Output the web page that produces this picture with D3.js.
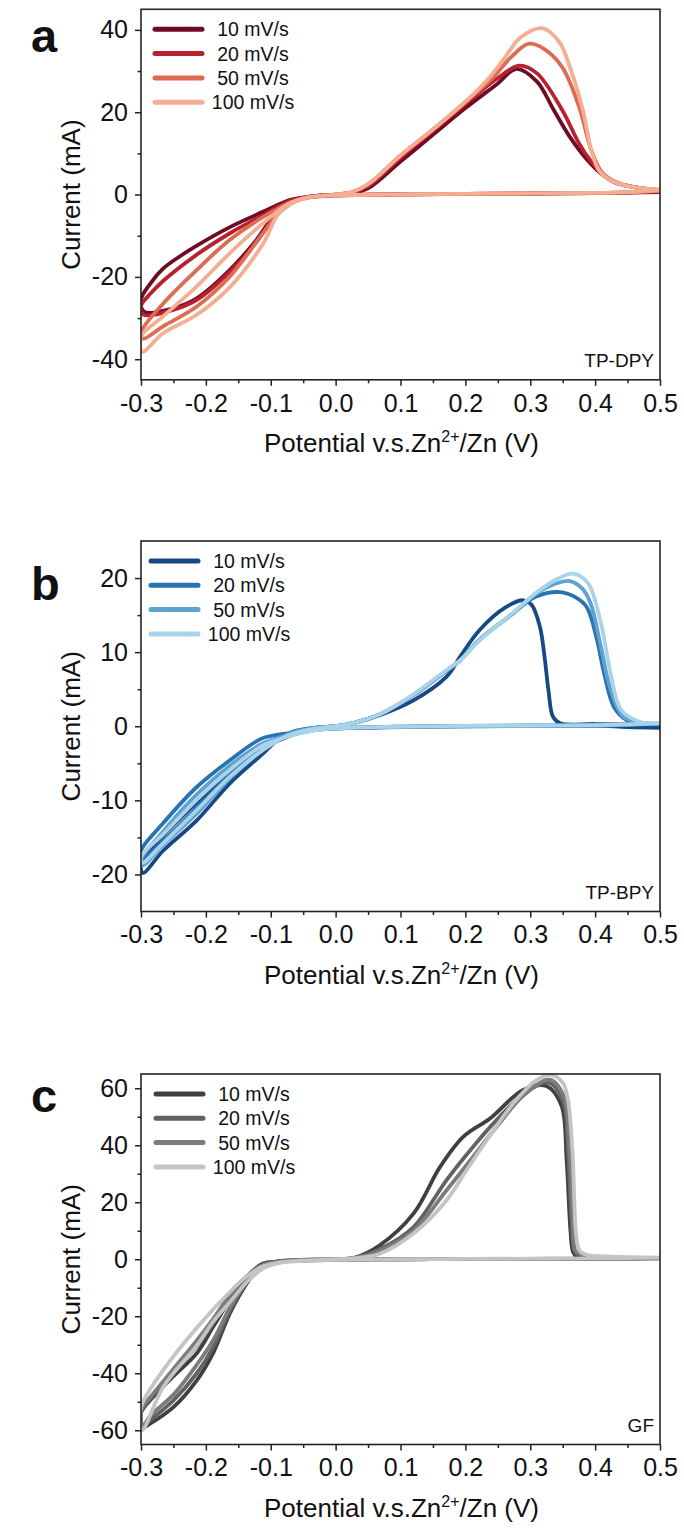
<!DOCTYPE html>
<html>
<head>
<meta charset="utf-8">
<script src="https://cdn.jsdelivr.net/npm/d3@7"></script>
<style>
  body { margin: 0; background: #fff; }
  text { font-family: "Liberation Sans", Arial, sans-serif; fill: #111; }
</style>
</head>
<body>
<svg id="chart" width="684" height="1528"></svg>
<script>
// Shared axis values
var potentialTicks = [-0.3, -0.2, -0.1, 0.0, 0.1, 0.2, 0.3, 0.4, 0.5];
var potentialTickLabels = ["-0.3", "-0.2", "-0.1", "0.0", "0.1", "0.2", "0.3", "0.4", "0.5"];
var potentialMinor = [-0.25, -0.15, -0.05, 0.05, 0.15, 0.25, 0.35, 0.45];
var scanRates = ["10 mV/s", "20 mV/s", "50 mV/s", "100 mV/s"];

// Panel a: TP-DPY, each loop is [potential (V), current (mA)] along the sweep
var tpdpyTicks = [-40, -20, 0, 20, 40];
var tpdpyMinor = [-30, -10, 10, 30];
var tpdpy10 = [[0.5,0.6],[0.45,0.45],[0.4,0.35],[0.3,0.25],[0.2,0.15],[0.1,0.05],[0.0,-0.2],[-0.04,-0.5],[-0.07,-1.3],[-0.112,-4.2],[-0.163,-7.9],[-0.214,-12.4],[-0.24,-15],[-0.266,-18],[-0.285,-21.5],[-0.3,-25.5],[-0.295,-28.5],[-0.25,-27.6],[-0.214,-25.2],[-0.163,-18.3],[-0.122,-11],[-0.096,-5.3],[-0.07,-1.7],[-0.04,-0.5],[0.0,0.0],[0.025,0.4],[0.05,1.5],[0.1,8],[0.15,14.5],[0.2,21],[0.25,27],[0.278,30.5],[0.31,27.5],[0.336,20.6],[0.361,14],[0.388,8.4],[0.41,5],[0.43,3],[0.46,1.8],[0.5,1.0]];
var tpdpy20 = [[0.5,0.8],[0.45,0.5],[0.4,0.35],[0.3,0.25],[0.2,0.15],[0.1,0.05],[0.0,-0.2],[-0.04,-0.6],[-0.07,-1.5],[-0.112,-5],[-0.163,-9.4],[-0.214,-14.6],[-0.266,-21],[-0.285,-24],[-0.3,-27],[-0.296,-29.2],[-0.25,-28],[-0.214,-25.6],[-0.163,-18.8],[-0.122,-11.5],[-0.096,-5.5],[-0.07,-1.8],[-0.04,-0.5],[0.0,0.0],[0.025,0.5],[0.05,2],[0.1,9],[0.15,15.5],[0.2,22],[0.25,28.3],[0.283,31.3],[0.31,29.5],[0.349,20.6],[0.375,12.5],[0.394,8],[0.41,5.2],[0.43,3],[0.46,1.8],[0.5,1.0]];
var tpdpy50 = [[0.5,0.9],[0.45,0.55],[0.4,0.35],[0.3,0.25],[0.2,0.15],[0.1,0.05],[0.0,-0.2],[-0.04,-0.7],[-0.07,-2],[-0.112,-5.5],[-0.163,-11],[-0.214,-18.3],[-0.266,-26.5],[-0.3,-33.5],[-0.297,-35],[-0.266,-32],[-0.214,-27.2],[-0.163,-19.9],[-0.112,-9.4],[-0.082,-3.7],[-0.05,-0.9],[0.0,0.0],[0.025,0.6],[0.05,2.5],[0.1,9.5],[0.15,15.8],[0.2,22.5],[0.24,28],[0.27,33.3],[0.297,36.6],[0.32,35.5],[0.349,31],[0.375,21.4],[0.394,10.8],[0.41,5.5],[0.43,3.2],[0.46,1.8],[0.5,1.1]];
var tpdpy100 = [[0.5,1.0],[0.45,0.6],[0.4,0.4],[0.3,0.3],[0.2,0.15],[0.1,0.05],[0.0,-0.2],[-0.04,-0.6],[-0.07,-2],[-0.112,-7],[-0.163,-14.2],[-0.214,-22.3],[-0.266,-29.6],[-0.3,-34.5],[-0.298,-38.2],[-0.266,-33.7],[-0.214,-29.2],[-0.163,-22.5],[-0.112,-12],[-0.085,-4],[-0.05,-1],[0.0,0.0],[0.025,0.6],[0.05,2.5],[0.1,9.5],[0.15,15.8],[0.2,22.5],[0.24,29],[0.262,33.5],[0.284,38],[0.318,40.4],[0.345,37],[0.361,31],[0.381,20.6],[0.394,10.8],[0.407,5.6],[0.43,3],[0.46,1.8],[0.5,1.2]];

// Panel b: TP-BPY
var tpbpyTicks = [-20, -10, 0, 10, 20];
var tpbpyMinor = [-15, -5, 5, 15];
var tpbpy10 = [[0.5,-0.2],[0.45,-0.1],[0.4,0.1],[0.3,0.1],[0.2,0.05],[0.1,-0.05],[0.0,-0.3],[-0.04,-0.6],[-0.08,-1.6],[-0.112,-3.0],[-0.163,-6.3],[-0.214,-10.3],[-0.266,-14.8],[-0.3,-18.5],[-0.297,-19.8],[-0.266,-16.8],[-0.214,-12.7],[-0.163,-7.7],[-0.112,-3.7],[-0.086,-1.6],[-0.06,-0.6],[-0.03,-0.2],[0.0,0.0],[0.03,0.5],[0.068,1.5],[0.12,3.5],[0.171,6.7],[0.192,9.4],[0.222,13],[0.263,16.1],[0.289,17],[0.302,16.4],[0.315,13.4],[0.322,9.4],[0.328,4.9],[0.335,1.3],[0.346,0.4],[0.4,0.3],[0.5,0.2]];
var tpbpy20 = [[0.5,0.3],[0.45,0.2],[0.4,0.1],[0.3,0.05],[0.2,0],[0.1,-0.1],[0.0,-0.3],[-0.04,-0.5],[-0.06,-0.8],[-0.112,-1.6],[-0.163,-4.6],[-0.214,-8.2],[-0.266,-13.1],[-0.3,-16.8],[-0.298,-17.8],[-0.266,-15.5],[-0.214,-11],[-0.163,-6.5],[-0.112,-2.8],[-0.07,-0.9],[-0.03,-0.2],[0.0,0.0],[0.03,0.5],[0.068,1.6],[0.12,4.2],[0.171,7.5],[0.192,8.9],[0.222,11.7],[0.273,15.2],[0.309,17.5],[0.346,18.1],[0.37,17.4],[0.387,16.1],[0.403,11.6],[0.414,7.1],[0.429,2.6],[0.449,0.8],[0.47,0.4],[0.5,0.3]];
var tpbpy50 = [[0.5,0.35],[0.45,0.2],[0.4,0.1],[0.3,0.05],[0.2,0],[0.1,-0.1],[0.0,-0.3],[-0.04,-0.6],[-0.07,-1.1],[-0.112,-2.3],[-0.163,-5.3],[-0.214,-9.2],[-0.266,-14.2],[-0.3,-18],[-0.298,-18.8],[-0.266,-16],[-0.214,-11.8],[-0.163,-7],[-0.112,-3.2],[-0.075,-1.1],[-0.03,-0.2],[0.0,0.0],[0.03,0.5],[0.068,1.6],[0.12,4.2],[0.171,7.5],[0.192,8.9],[0.222,11.7],[0.273,15.2],[0.309,17.9],[0.335,19.1],[0.361,19.6],[0.38,18.6],[0.393,16.6],[0.409,10.7],[0.424,4.9],[0.443,1.3],[0.47,0.5],[0.5,0.35]];
var tpbpy100 = [[0.5,0.4],[0.45,0.25],[0.4,0.15],[0.3,0.1],[0.2,0.05],[0.1,-0.05],[0.0,-0.3],[-0.04,-0.7],[-0.07,-1.3],[-0.112,-2.6],[-0.163,-5.9],[-0.214,-9.9],[-0.266,-14.6],[-0.3,-17.6],[-0.298,-18.4],[-0.266,-15.8],[-0.214,-11.3],[-0.163,-6.8],[-0.112,-3.2],[-0.075,-1.3],[-0.03,-0.3],[0.0,0.0],[0.03,0.5],[0.068,1.6],[0.12,4.3],[0.171,7.6],[0.192,8.9],[0.222,11.6],[0.273,15.3],[0.309,18],[0.34,19.8],[0.366,20.6],[0.389,19.3],[0.409,13.9],[0.424,7.1],[0.44,2.2],[0.469,0.6],[0.5,0.4]];

// Panel c: GF
var gfTicks = [-60, -40, -20, 0, 20, 40, 60];
var gfMinor = [-50, -30, -10, 10, 30, 50];
var gf10 = [[0.5,0.3],[0.45,0.25],[0.4,0.2],[0.3,0.15],[0.2,0.1],[0.1,0],[0.0,-0.2],[-0.05,-0.4],[-0.09,-0.8],[-0.112,-1.5],[-0.137,-6.2],[-0.163,-14.4],[-0.189,-23.8],[-0.214,-33],[-0.25,-41],[-0.286,-49.5],[-0.3,-54],[-0.297,-59],[-0.286,-57.7],[-0.25,-51.9],[-0.214,-42.5],[-0.189,-33],[-0.163,-19],[-0.137,-8.5],[-0.12,-3.5],[-0.1,-1.2],[-0.07,-0.4],[0.0,0.0],[0.03,0.6],[0.068,4.9],[0.12,16],[0.161,32.4],[0.197,43],[0.238,49.4],[0.289,59.4],[0.325,60.8],[0.348,54],[0.356,35],[0.362,10],[0.366,2.5],[0.372,0.8],[0.4,0.5],[0.5,0.3]];
var gf20 = [[0.5,0.4],[0.45,0.3],[0.4,0.2],[0.3,0.15],[0.2,0.1],[0.1,0],[0.0,-0.2],[-0.05,-0.4],[-0.09,-0.9],[-0.112,-1.8],[-0.137,-6],[-0.163,-13.5],[-0.189,-22.5],[-0.214,-30.5],[-0.25,-39.5],[-0.286,-49],[-0.3,-53.5],[-0.297,-58.5],[-0.286,-56.5],[-0.25,-49.5],[-0.214,-40],[-0.189,-31],[-0.163,-18],[-0.137,-8],[-0.115,-3.2],[-0.1,-1.3],[-0.07,-0.4],[0.0,0.0],[0.03,0.5],[0.068,3.5],[0.12,11.3],[0.171,27.8],[0.212,39.5],[0.248,48.8],[0.29,58],[0.328,62],[0.35,56],[0.358,38],[0.364,12],[0.368,3],[0.375,1.2],[0.4,0.6],[0.5,0.4]];
var gf50 = [[0.5,0.5],[0.45,0.35],[0.4,0.25],[0.3,0.15],[0.2,0.1],[0.1,0],[0.0,-0.2],[-0.05,-0.5],[-0.09,-1.0],[-0.112,-2.0],[-0.137,-6],[-0.163,-12.5],[-0.189,-21],[-0.214,-28.5],[-0.25,-38.5],[-0.286,-48.5],[-0.3,-53],[-0.297,-58.5],[-0.286,-55],[-0.25,-47.5],[-0.214,-37],[-0.189,-28.5],[-0.163,-17],[-0.137,-8],[-0.115,-3.4],[-0.1,-1.4],[-0.07,-0.4],[0.0,0.0],[0.03,0.5],[0.068,3],[0.12,10],[0.171,24.2],[0.212,36],[0.25,47],[0.29,57.5],[0.33,63],[0.352,57],[0.36,40],[0.366,12],[0.37,3],[0.38,1.5],[0.4,0.8],[0.5,0.5]];
var gf100 = [[0.5,0.6],[0.45,0.4],[0.4,0.3],[0.3,0.2],[0.2,0.1],[0.1,0],[0.0,-0.2],[-0.05,-0.6],[-0.09,-1.3],[-0.112,-2.5],[-0.137,-6],[-0.163,-11.5],[-0.214,-24],[-0.266,-39],[-0.3,-52],[-0.298,-60],[-0.266,-44.9],[-0.214,-30.3],[-0.189,-22],[-0.163,-15],[-0.137,-8],[-0.11,-3],[-0.08,-1],[0.0,0.0],[0.03,0.4],[0.068,1.9],[0.12,9],[0.171,20.7],[0.202,31.3],[0.233,41.8],[0.274,54.7],[0.31,62.9],[0.332,64.6],[0.35,62],[0.358,56],[0.365,38],[0.371,8],[0.376,3],[0.386,1.6],[0.417,1],[0.5,0.6]];

var left = 141, right = 660, plotH = 370.5;

var panels = [
  { letter: "a", top: 9.3, letterY: 52, domain: [-45, 45], ticks: tpdpyTicks, minor: tpdpyMinor,
    loops: [tpdpy10, tpdpy20, tpdpy50, tpdpy100], colors: ["#6e0b25", "#b8212f", "#de6b53", "#f5ae92"],
    tag: "TP-DPY", legendX: 155 },
  { letter: "b", top: 541, letterY: 600, domain: [-25, 25], ticks: tpbpyTicks, minor: tpbpyMinor,
    loops: [tpbpy10, tpbpy20, tpbpy50, tpbpy100], colors: ["#174a84", "#2a73b3", "#5ea3d0", "#a9d3ea"],
    tag: "TP-BPY", legendX: 151 },
  { letter: "c", top: 1074, letterY: 1112, domain: [-65, 65], ticks: gfTicks, minor: gfMinor,
    loops: [gf10, gf20, gf50, gf100], colors: ["#404040", "#626262", "#7c7c7c", "#c4c4c4"],
    tag: "GF", legendX: 156 }
];

var svg = d3.select("#chart");

var x = d3.scaleLinear().domain([-0.3, 0.5]).range([left, right]);

panels.forEach(function(p, pi) {
  var g = svg.append("g").attr("transform", "translate(0," + p.top + ")");
  var y = d3.scaleLinear().domain(p.domain).range([plotH, 0]);

  // clip the loops to the plot frame
  g.append("clipPath").attr("id", "clip" + pi)
    .append("rect").attr("x", left).attr("y", 0).attr("width", right - left).attr("height", plotH);

  var line = d3.line()
    .x(function(d) { return x(d[0]); })
    .y(function(d) { return y(d[1]); })
    .curve(d3.curveCatmullRom.alpha(0.5));

  g.append("g").attr("clip-path", "url(#clip" + pi + ")")
    .selectAll("path").data(p.loops).join("path")
    .attr("d", line)
    .attr("fill", "none")
    .attr("stroke", function(d, i) { return p.colors[i]; })
    .attr("stroke-width", 3.8)
    .attr("stroke-linejoin", "round");

  // axes
  var yAxis = g.append("g").attr("transform", "translate(" + left + ",0)")
    .call(d3.axisLeft(y).tickValues(p.ticks).tickSize(6).tickPadding(7)
      .tickFormat(function(d) { return String(d); }));
  var yMinor = g.append("g").attr("transform", "translate(" + left + ",0)")
    .call(d3.axisLeft(y).tickValues(p.minor).tickSize(3.5).tickFormat(""));
  var xAxis = g.append("g").attr("transform", "translate(0," + plotH + ")")
    .call(d3.axisBottom(x).tickValues(potentialTicks).tickSize(6).tickPadding(8)
      .tickFormat(function(d, i) { return potentialTickLabels[i]; }));
  var xMinor = g.append("g").attr("transform", "translate(0," + plotH + ")")
    .call(d3.axisBottom(x).tickValues(potentialMinor).tickSize(3.5).tickFormat(""));

  [yAxis, yMinor, xAxis, xMinor].forEach(function(a) {
    a.select(".domain").remove();
    a.selectAll("line").attr("stroke", "#222").attr("stroke-width", 1.5);
    a.selectAll("text").attr("font-size", 25).attr("fill", "#111")
      .attr("font-family", "'Liberation Sans', Arial, sans-serif");
  });

  // frame
  g.append("rect")
    .attr("x", left).attr("y", 0)
    .attr("width", right - left).attr("height", plotH)
    .attr("fill", "none").attr("stroke", "#222").attr("stroke-width", 1.6);

  // axis titles
  g.append("text")
    .attr("transform", "translate(80," + (plotH / 2) + ") rotate(-90)")
    .attr("text-anchor", "middle")
    .attr("font-size", 26)
    .text("Current (mA)");

  var xt = g.append("text")
    .attr("x", (left + right) / 2 + 1)
    .attr("y", plotH + 72)
    .attr("text-anchor", "middle")
    .attr("font-size", 26);
  xt.append("tspan").text("Potential v.s.Zn");
  xt.append("tspan").attr("font-size", 16).attr("dy", -10).text("2+");
  xt.append("tspan").attr("dy", 10).text("/Zn (V)");

  // legend
  var lg = g.append("g");
  scanRates.forEach(function(label, i) {
    var ly = 20 + i * 24.3;
    lg.append("line")
      .attr("x1", p.legendX).attr("x2", p.legendX + 47)
      .attr("y1", ly).attr("y2", ly)
      .attr("stroke", p.colors[i]).attr("stroke-width", 5)
      .attr("stroke-linecap", "round");
    lg.append("text")
      .attr("x", p.legendX + 98).attr("y", ly + 7)
      .attr("text-anchor", "middle")
      .attr("font-size", 19.5)
      .text(label);
  });

  // sample tag
  g.append("text")
    .attr("x", right - 6).attr("y", plotH - 13)
    .attr("text-anchor", "end")
    .attr("font-size", 19)
    .text(p.tag);

  // panel letter
  svg.append("text")
    .attr("x", 31).attr("y", p.letterY)
    .attr("font-size", 47).attr("font-weight", "bold")
    .text(p.letter);
});
</script>
</body>
</html>
